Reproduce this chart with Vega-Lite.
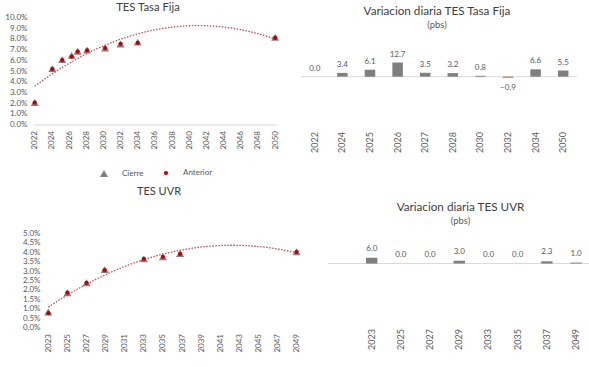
{
  "$schema": "https://vega.github.io/schema/vega-lite/v6.json",
  "background": "white",
  "padding": {"left": 4, "top": 1.5, "right": 0, "bottom": 0},
  "config": {
    "view": {"stroke": null},
    "font": "Lato",
    "axis": {"grid": false, "ticks": false, "domain": false, "labelColor": "#595959", "labelFont": "Lato", "labelFontSize": 8, "title": null},
    "title": {"color": "#404040", "font": "Lato", "fontWeight": "normal", "subtitleFont": "Lato", "subtitleColor": "#595959"}
  },
  "datasets": {
    "fija": [
      {"Serie": "Cierre", "Venc": 2022.0, "Tasa": 0.0205},
      {"Serie": "Cierre", "Venc": 2024.05, "Tasa": 0.0522},
      {"Serie": "Cierre", "Venc": 2025.2, "Tasa": 0.0608},
      {"Serie": "Cierre", "Venc": 2026.3, "Tasa": 0.0646},
      {"Serie": "Cierre", "Venc": 2027.0, "Tasa": 0.0685},
      {"Serie": "Cierre", "Venc": 2028.1, "Tasa": 0.0696},
      {"Serie": "Cierre", "Venc": 2030.2, "Tasa": 0.0715},
      {"Serie": "Cierre", "Venc": 2032.0, "Tasa": 0.0753},
      {"Serie": "Cierre", "Venc": 2034.0, "Tasa": 0.0770},
      {"Serie": "Cierre", "Venc": 2050.0, "Tasa": 0.0815},
      {"Serie": "Anterior", "Venc": 2022.0, "Tasa": 0.0205},
      {"Serie": "Anterior", "Venc": 2024.05, "Tasa": 0.05186},
      {"Serie": "Anterior", "Venc": 2025.2, "Tasa": 0.06019},
      {"Serie": "Anterior", "Venc": 2026.3, "Tasa": 0.06333},
      {"Serie": "Anterior", "Venc": 2027.0, "Tasa": 0.06815},
      {"Serie": "Anterior", "Venc": 2028.1, "Tasa": 0.06928},
      {"Serie": "Anterior", "Venc": 2030.2, "Tasa": 0.07142},
      {"Serie": "Anterior", "Venc": 2032.0, "Tasa": 0.07539},
      {"Serie": "Anterior", "Venc": 2034.0, "Tasa": 0.07634},
      {"Serie": "Anterior", "Venc": 2050.0, "Tasa": 0.08095}
    ],
    "uvr": [
      {"Serie": "Cierre", "Venc": 2023.0, "Tasa": 0.0082},
      {"Serie": "Cierre", "Venc": 2025.0, "Tasa": 0.0185},
      {"Serie": "Cierre", "Venc": 2027.0, "Tasa": 0.0238},
      {"Serie": "Cierre", "Venc": 2028.9, "Tasa": 0.0308},
      {"Serie": "Cierre", "Venc": 2033.0, "Tasa": 0.0365},
      {"Serie": "Cierre", "Venc": 2035.0, "Tasa": 0.0376},
      {"Serie": "Cierre", "Venc": 2036.8, "Tasa": 0.0394},
      {"Serie": "Cierre", "Venc": 2049.0, "Tasa": 0.0403},
      {"Serie": "Anterior", "Venc": 2023.0, "Tasa": 0.0076},
      {"Serie": "Anterior", "Venc": 2025.0, "Tasa": 0.0185},
      {"Serie": "Anterior", "Venc": 2027.0, "Tasa": 0.0238},
      {"Serie": "Anterior", "Venc": 2028.9, "Tasa": 0.0305},
      {"Serie": "Anterior", "Venc": 2033.0, "Tasa": 0.0365},
      {"Serie": "Anterior", "Venc": 2035.0, "Tasa": 0.0376},
      {"Serie": "Anterior", "Venc": 2036.8, "Tasa": 0.03917},
      {"Serie": "Anterior", "Venc": 2049.0, "Tasa": 0.0402}
    ],
    "fijaVar": [
      {"Plazo": "2022", "Var": 0.0},
      {"Plazo": "2024", "Var": 3.4},
      {"Plazo": "2025", "Var": 6.1},
      {"Plazo": "2026", "Var": 12.7},
      {"Plazo": "2027", "Var": 3.5},
      {"Plazo": "2028", "Var": 3.2},
      {"Plazo": "2030", "Var": 0.8},
      {"Plazo": "2032", "Var": -0.9},
      {"Plazo": "2034", "Var": 6.6},
      {"Plazo": "2050", "Var": 5.5}
    ],
    "uvrVar": [
      {"Plazo": "2023", "Var": 6.0},
      {"Plazo": "2025", "Var": 0.0},
      {"Plazo": "2027", "Var": 0.0},
      {"Plazo": "2029", "Var": 3.0},
      {"Plazo": "2033", "Var": 0.0},
      {"Plazo": "2035", "Var": 0.0},
      {"Plazo": "2037", "Var": 2.3},
      {"Plazo": "2049", "Var": 1.0}
    ]
  },
  "spacing": 8,
  "resolve": {"scale": {"color": "independent", "shape": "independent", "size": "independent"}, "legend": {"color": "independent", "shape": "independent", "size": "independent"}},
  "vconcat": [
    {
      "spacing": 20,
      "resolve": {"scale": {"color": "independent", "shape": "independent", "size": "independent"}, "legend": {"color": "independent", "shape": "independent", "size": "independent"}},
      "hconcat": [
        {
          "width": 243,
          "height": 107,
          "title": {"text": "TES Tasa Fija", "fontSize": 11.3, "offset": 0, "dx": -6.5},
          "data": {"name": "fija"},
          "encoding": {
            "x": {"field": "Venc", "type": "quantitative", "scale": {"domain": [2021.8, 2050.1], "nice": false, "zero": false},
                  "axis": {"values": [2022, 2024, 2026, 2028, 2030, 2032, 2034, 2036, 2038, 2040, 2042, 2044, 2046, 2048, 2050], "format": "d", "labelAngle": -90, "labelPadding": 6, "domain": true, "domainColor": "#d9d9d9", "labelFlush": false, "labelOverlap": false}},
            "y": {"field": "Tasa", "type": "quantitative", "scale": {"domain": [0, 0.1], "nice": false},
                  "axis": {"values": [0, 0.01, 0.02, 0.03, 0.04, 0.05, 0.06, 0.07, 0.08, 0.09, 0.1], "format": ".1%", "labelPadding": 6, "minExtent": 29, "labelFlush": false}}
          },
          "layer": [
            {
              "transform": [{"filter": "datum.Serie == 'Cierre'"}, {"regression": "Tasa", "on": "Venc", "method": "poly", "order": 2}],
              "mark": {"type": "line", "color": "#c0504d", "strokeDash": [1.5, 1.5], "strokeWidth": 1.3}
            },
            {
              "mark": {"type": "point", "filled": true, "opacity": 1},
              "encoding": {
                "shape": {"field": "Serie", "type": "nominal", "scale": {"domain": ["Cierre", "Anterior"], "range": ["triangle-up", "circle"]},
                          "legend": {"orient": "none", "legendX": 66, "legendY": 151, "direction": "horizontal", "title": null, "labelFontSize": 8, "labelColor": "#595959", "labelOffset": 13, "columnPadding": 18}},
                "color": {"field": "Serie", "type": "nominal", "scale": {"domain": ["Cierre", "Anterior"], "range": ["#808080", "#c00000"]},
                          "legend": {"orient": "none", "legendX": 66, "legendY": 151, "direction": "horizontal", "title": null, "labelFontSize": 8, "labelColor": "#595959", "labelOffset": 13, "columnPadding": 18}},
                "size": {"field": "Serie", "type": "nominal", "scale": {"domain": ["Cierre", "Anterior"], "range": [64, 18]},
                          "legend": {"orient": "none", "legendX": 66, "legendY": 151, "direction": "horizontal", "title": null, "labelFontSize": 8, "labelColor": "#595959", "labelOffset": 13, "columnPadding": 18}}
              }
            }
          ]
        },
        {
          "width": 276,
          "height": 111,
          "title": {"text": "Variacion diaria TES Tasa Fija", "subtitle": "(pbs)", "fontSize": 11.7, "subtitleFontSize": 9.4, "subtitlePadding": 3, "offset": -11.5, "dx": -2},
          "data": {"name": "fijaVar"},
          "layer": [
            {
              "data": {"values": [{}]},
              "mark": {"type": "rule", "color": "#d9d9d9", "strokeWidth": 1},
              "encoding": {"y": {"datum": 0, "type": "quantitative", "scale": {"domain": [-46.4, 53], "nice": false}, "axis": null}}
            },
            {
              "mark": {"type": "bar"},
              "encoding": {
                "x": {"field": "Plazo", "type": "nominal", "sort": null, "scale": {"paddingInner": 0.62, "paddingOuter": 0.31}, "axis": {"labelAngle": -90, "labelPadding": 3, "labelFontSize": 9}},
                "y": {"field": "Var", "type": "quantitative", "scale": {"domain": [-46.4, 53], "nice": false}, "axis": null},
                "color": {"condition": {"test": "datum.Var < 0", "value": "#c0504d"}, "value": "#7f7f7f"}
              }
            },
            {
              "transform": [{"filter": "datum.Var >= 0"}],
              "mark": {"type": "text", "baseline": "bottom", "dy": -4, "fontSize": 8, "color": "#595959"},
              "encoding": {
                "x": {"field": "Plazo", "type": "nominal", "sort": null},
                "y": {"field": "Var", "type": "quantitative"},
                "text": {"field": "Var", "type": "quantitative", "format": ".1f"}
              }
            },
            {
              "transform": [{"filter": "datum.Var < 0"}],
              "mark": {"type": "text", "baseline": "top", "dy": 6, "fontSize": 8, "color": "#595959"},
              "encoding": {
                "x": {"field": "Plazo", "type": "nominal", "sort": null},
                "y": {"field": "Var", "type": "quantitative"},
                "text": {"field": "Var", "type": "quantitative", "format": ".1f"}
              }
            }
          ]
        }
      ]
    },
    {
      "spacing": 0,
      "hconcat": [
        {
          "width": 265,
          "height": 94,
          "title": {"text": "TES UVR", "fontSize": 11, "offset": 32.3, "dx": -6.5},
          "data": {"name": "uvr"},
          "encoding": {
            "x": {"field": "Venc", "type": "quantitative", "scale": {"domain": [2021.39, 2049.15], "nice": false, "zero": false},
                  "axis": {"values": [2023, 2025, 2027, 2029, 2031, 2033, 2035, 2037, 2039, 2041, 2043, 2045, 2047, 2049], "format": "d", "labelAngle": -90, "labelPadding": 6, "labelFlush": false, "labelOverlap": false}},
            "y": {"field": "Tasa", "type": "quantitative", "scale": {"domain": [0, 0.05], "nice": false},
                  "axis": {"values": [0, 0.005, 0.01, 0.015, 0.02, 0.025, 0.03, 0.035, 0.04, 0.045, 0.05], "format": ".1%", "labelPadding": -7, "labelFlush": false}}
          },
          "layer": [
            {
              "data": {"values": [{}]},
              "mark": {"type": "rule", "color": "#d9d9d9", "strokeWidth": 1},
              "encoding": {"x": {"datum": 2022.65, "type": "quantitative"}, "x2": {"datum": 2049.15}, "y": {"datum": 0, "type": "quantitative"}}
            },
            {
              "transform": [{"filter": "datum.Serie == 'Cierre'"}, {"regression": "Tasa", "on": "Venc", "method": "poly", "order": 2}],
              "mark": {"type": "line", "color": "#c0504d", "strokeDash": [1.5, 1.5], "strokeWidth": 1.3}
            },
            {
              "transform": [{"filter": "datum.Serie == 'Cierre'"}],
              "mark": {"type": "point", "filled": true, "opacity": 1, "shape": "triangle-up", "size": 64, "color": "#808080"}
            },
            {
              "transform": [{"filter": "datum.Serie == 'Anterior'"}],
              "mark": {"type": "point", "filled": true, "opacity": 1, "shape": "circle", "size": 18, "color": "#c00000"}
            }
          ]
        },
        {
          "width": 261,
          "height": 92,
          "title": {"text": "Variacion diaria TES UVR", "subtitle": "(pbs)", "fontSize": 11.7, "subtitleFontSize": 9.4, "subtitlePadding": 3, "offset": 8, "dx": 2},
          "data": {"name": "uvrVar"},
          "layer": [
            {
              "data": {"values": [{}]},
              "mark": {"type": "rule", "color": "#d9d9d9", "strokeWidth": 1},
              "encoding": {"y": {"datum": 0, "type": "quantitative", "scale": {"domain": [-63.9, 31], "nice": false},
                                 "axis": {"labels": false, "ticks": false, "domain": false, "grid": false, "minExtent": 27, "maxExtent": 27}}}
            },
            {
              "mark": {"type": "bar"},
              "encoding": {
                "x": {"field": "Plazo", "type": "nominal", "sort": null, "scale": {"paddingInner": 0.61, "paddingOuter": 0.775, "align": 0.84}, "axis": {"labelAngle": -90, "labelPadding": 3, "labelFontSize": 9}},
                "y": {"field": "Var", "type": "quantitative", "scale": {"domain": [-63.9, 31], "nice": false}},
                "color": {"value": "#7f7f7f"}
              }
            },
            {
              "mark": {"type": "text", "baseline": "bottom", "dy": -5, "fontSize": 8, "color": "#595959"},
              "encoding": {
                "x": {"field": "Plazo", "type": "nominal", "sort": null},
                "y": {"field": "Var", "type": "quantitative"},
                "text": {"field": "Var", "type": "quantitative", "format": ".1f"}
              }
            }
          ]
        }
      ]
    }
  ]
}
